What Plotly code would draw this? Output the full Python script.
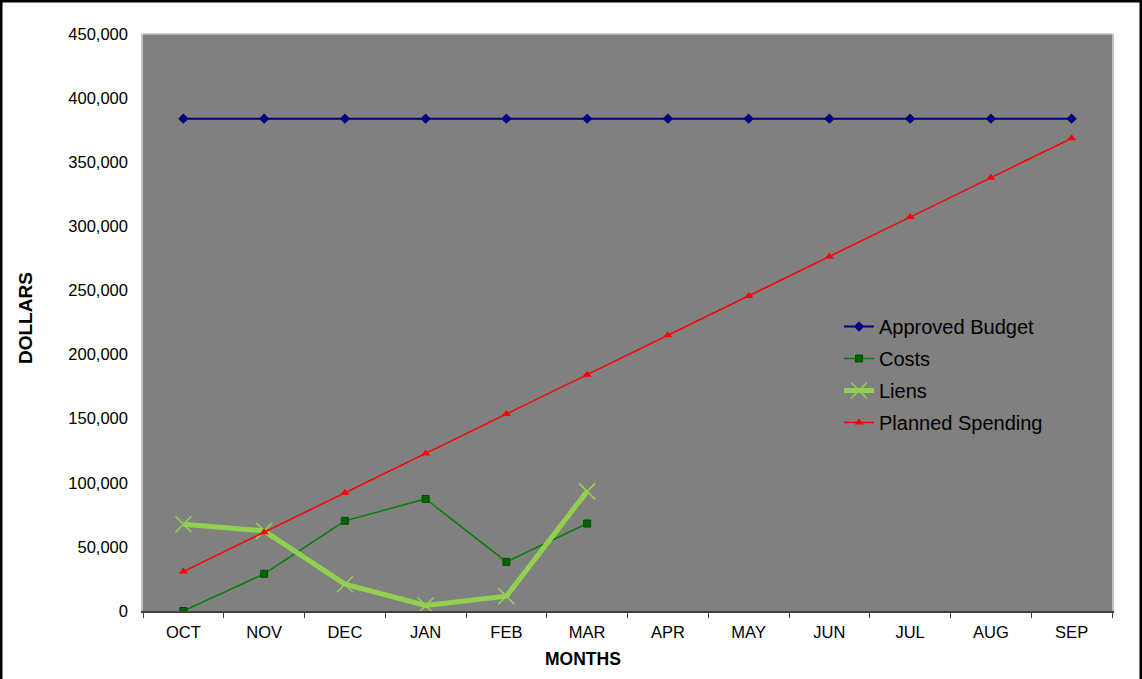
import plotly.graph_objects as go

# Monthly budget tracking data (fiscal year Oct-Sep)
months = ["OCT", "NOV", "DEC", "JAN", "FEB", "MAR", "APR", "MAY", "JUN", "JUL", "AUG", "SEP"]
approved_budget = [384000] * 12
costs = [0, 29000, 70300, 87400, 38300, 68200]
liens = [67600, 62500, 20900, 4300, 11500, 93300]
planned_spending = [30720, 61440, 92160, 122880, 153600, 184320,
                    215040, 245760, 276480, 307200, 337920, 368640]

W, H = 1142, 679
ML, MR, MT, MB = 143, 30, 34, 68
PW, PH = W - ML - MR, H - MT - MB


def px(x):
    return (x - ML) / PW


def py(y):
    return (H - MB - y) / PH


FONT = "Liberation Sans, Arial, sans-serif"

fig = go.Figure()
fig.add_trace(go.Scatter(
    x=months, y=approved_budget, name="Approved Budget", mode="lines+markers",
    line=dict(color="#000080", width=2),
    marker=dict(symbol="diamond", size=8, color="#000080"),
    legendgroup="a"))
fig.add_trace(go.Scatter(
    x=months[:len(costs)], y=costs, name="Costs", mode="lines+markers",
    line=dict(color="#008000", width=1.5),
    marker=dict(symbol="square", size=7, color="#006400",
                line=dict(color="#004d00", width=1)),
    legendgroup="b"))
fig.add_trace(go.Scatter(
    x=months[:len(liens)], y=liens, name="Liens", mode="lines+markers",
    line=dict(color="#92d050", width=5),
    marker=dict(symbol="x-thin", size=16, color="#92d050",
                line=dict(color="#92d050", width=1.5)),
    legendgroup="c"))
fig.add_trace(go.Scatter(
    x=months, y=planned_spending, name="Planned Spending", mode="lines+markers",
    line=dict(color="#ff0000", width=1.5),
    marker=dict(symbol="triangle-up", size=8, color="#ff0000"),
    legendgroup="d"))

fig.update_layout(
    width=W, height=H,
    margin=dict(l=ML, r=MR, t=MT, b=MB),
    paper_bgcolor="white",
    plot_bgcolor="#808080",
    font=dict(family=FONT, size=16.5, color="black"),
    showlegend=True,
    legend=dict(
        x=px(839), y=py(307), xanchor="left", yanchor="top",
        bgcolor="rgba(0,0,0,0)", font=dict(size=20, color="black"),
        tracegroupgap=3, traceorder="grouped",
    ),
    xaxis=dict(
        type="category", range=[-0.5, 11.5],
        showgrid=False, zeroline=False,
        showline=True, linecolor="#404040", linewidth=1.5,
        ticks="outside", ticklen=5, tickcolor="#404040", tickson="boundaries",
        tickfont=dict(size=16.5), ticklabelstandoff=5,
    ),
    yaxis=dict(
        range=[0, 450000], dtick=50000, tickformat=",",
        showgrid=False, zeroline=False,
        showline=True, linecolor="#c0c0c0", linewidth=1.5, mirror=True,
        ticks="", tickfont=dict(size=16.5), ticklabelstandoff=10,
    ),
    annotations=[
        dict(text="<b>MONTHS</b>", x=px(583), y=py(659), xref="paper", yref="paper",
             showarrow=False, font=dict(size=17.5), xanchor="center", yanchor="middle"),
        dict(text="<b>DOLLARS</b>", x=px(25), y=py(318), xref="paper", yref="paper",
             showarrow=False, font=dict(size=19), textangle=-90,
             xanchor="center", yanchor="middle"),
    ],
    shapes=[
        # light border along the top of the plotting area
        dict(type="line", xref="paper", yref="paper", x0=0, x1=1, y0=1, y1=1,
             line=dict(color="#c0c0c0", width=1.5)),
        # outer frame of the chart
        dict(type="rect", xref="paper", yref="paper",
             x0=px(1), x1=px(W - 1), y0=py(H + 2), y1=py(1),
             line=dict(color="black", width=3), layer="above"),
    ],
)

fig.write_html("out.html")
